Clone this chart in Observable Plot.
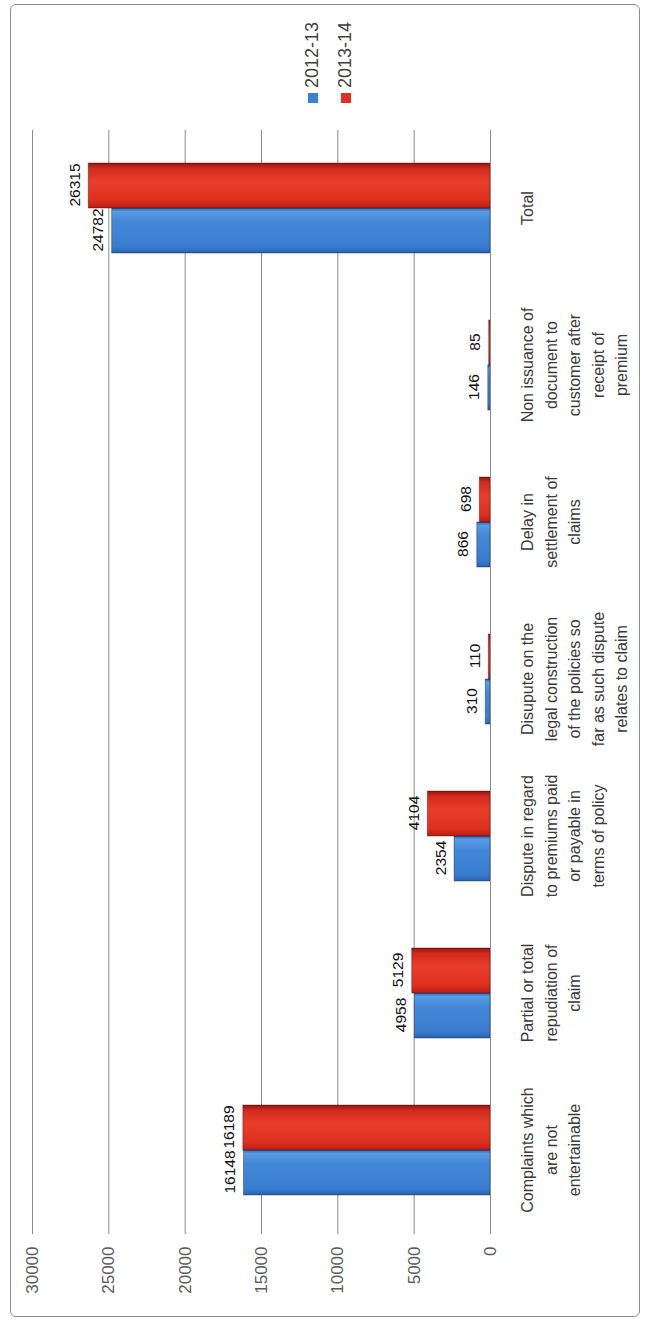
<!DOCTYPE html>
<html>
<head>
<meta charset="utf-8">
<script src="https://cdn.jsdelivr.net/npm/d3@7"></script>
<script src="https://cdn.jsdelivr.net/npm/@observablehq/plot@0.6"></script>
<style>
  html, body { margin: 0; padding: 0; background: #fff; }
  #viewport { position: relative; width: 645px; height: 1321px; overflow: hidden; background: #fff; }
  #chart { position: absolute; left: 0; top: 0; width: 1321px; height: 645px;
           transform-origin: 0 0; transform: translateY(1321px) rotate(-90deg);
           font-family: "Liberation Sans", Arial, sans-serif; }
  #chart svg { position: absolute; left: 0; top: 0; }
  #border { position: absolute; left: 4px; top: 10px; width: 1311px; height: 628px;
            border: 1.5px solid #8e8e8e; border-radius: 6px; pointer-events: none; }
  #legend { position: absolute; left: 1218px; top: 296px; font-size: 18px; color: #404040; }
  #legend .item { display: flex; align-items: center; height: 33px; }
  #legend .sw { width: 10px; height: 10px; margin-right: 5px; }
</style>
</head>
<body>
<div id="viewport"><div id="chart"></div></div>
<script>
// ---- data ----
const categories = [
  "Complaints which\nare not\nentertainable",
  "Partial or total\nrepudiation of\nclaim",
  "Dispute in regard\nto premiums paid\nor payable in\nterms of policy",
  "Disupute on the\nlegal construction\nof the policies so\nfar as such dispute\nrelates to claim",
  "Delay in\nsettlement of\nclaims",
  "Non issuance of\ndocument to\ncustomer after\nreceipt of\npremium",
  "Total"
];
const seriesNames = ["2012-13", "2013-14"];
const values2012 = [16148, 4958, 2354, 310, 866, 146, 24782];
const values2013 = [16189, 5129, 4104, 110, 698, 85, 26315];
const yTicks = [0, 5000, 10000, 15000, 20000, 25000, 30000];

// ---- styles ----
const seriesColors = ["#3c80d2", "#e0301f"];
const W = 1321, H = 645, mL = 91, mR = 130, mT = 32, mB = 155;
const step = (W - mL - mR) / categories.length;
const gridColor = "#8c8c8c";

const data = categories.flatMap((c, i) => [
  {category: c, series: seriesNames[0], value: values2012[i]},
  {category: c, series: seriesNames[1], value: values2013[i]}
]);

const svg = Plot.plot({
  width: W, height: H,
  marginLeft: mL, marginRight: mR, marginTop: mT, marginBottom: mB,
  style: {background: "white", fontFamily: "'Liberation Sans', Arial, sans-serif"},
  fx: {domain: categories, padding: 0, axis: null, label: null},
  x: {domain: seriesNames, paddingInner: 0, paddingOuter: 0.708, axis: null, label: null},
  y: {domain: [0, 30000], axis: null, label: null},
  color: {domain: seriesNames, range: ["url(#gBlue)", "url(#gRed)"]},
  marks: [
    Plot.gridY(yTicks, {stroke: gridColor, strokeOpacity: 1, strokeWidth: 1}),
    Plot.axisY(yTicks, {anchor: "left", label: null, tickSize: 5, tickPadding: 13, fontSize: 17,
      fill: "#5a5a5a", stroke: gridColor, tickFormat: d3.format("d")}),
    Plot.ruleX([categories[0]], {fx: d => d, y1: 0, y2: 30000, dx: -step / 2, stroke: gridColor}),
    Plot.ruleX(categories, {fx: d => d, y1: 0, y2: 0, insetTop: 0, insetBottom: -5, dx: -step / 2, stroke: gridColor}),
    Plot.ruleX([categories[categories.length - 1]], {fx: d => d, y1: 0, y2: 0, insetTop: 0, insetBottom: -5, dx: step / 2, stroke: gridColor}),
    Plot.barY(data, {fx: "category", x: "series", y: "value", fill: "series",
      stroke: "rgba(0,0,0,0.35)", strokeWidth: 1}),
    Plot.ruleY([0], {stroke: gridColor}),
    Plot.text(data, {fx: "category", x: "series", y: "value", text: d => String(d.value),
      lineAnchor: "bottom", dy: -9, fontSize: 15.5, fill: "#111"}),
    Plot.text(categories, {fx: d => d, text: d => d, frameAnchor: "bottom", lineAnchor: "top",
      dy: 26, fontSize: 16, lineHeight: 1.47, fill: "#3a3a3a"})
  ]
});

// gradients for the Excel-like bars
const defs = d3.select(svg).insert("defs", ":first-child");
function grad(id, stops) {
  const g = defs.append("linearGradient").attr("id", id)
    .attr("x1", 0).attr("x2", 1).attr("y1", 0).attr("y2", 0);
  stops.forEach(([o, c]) => g.append("stop").attr("offset", o).attr("stop-color", c));
}
grad("gBlue", [[0, "#2a62b2"], [0.15, "#3a7dd0"], [0.7, "#4388d8"], [0.92, "#5a9ce4"], [1, "#2f66b0"]]);
grad("gRed", [[0, "#b81e16"], [0.18, "#e0301f"], [0.6, "#e93d2c"], [0.88, "#d22a1c"], [1, "#961510"]]);

const chart = document.getElementById("chart");
chart.appendChild(svg);

const border = document.createElement("div");
border.id = "border";
chart.appendChild(border);

const legend = document.createElement("div");
legend.id = "legend";
seriesNames.forEach((s, i) => {
  const item = document.createElement("div");
  item.className = "item";
  const sw = document.createElement("div");
  sw.className = "sw";
  sw.style.background = seriesColors[i];
  const t = document.createElement("span");
  t.textContent = s;
  item.appendChild(sw);
  item.appendChild(t);
  legend.appendChild(item);
});
chart.appendChild(legend);
</script>
</body>
</html>
